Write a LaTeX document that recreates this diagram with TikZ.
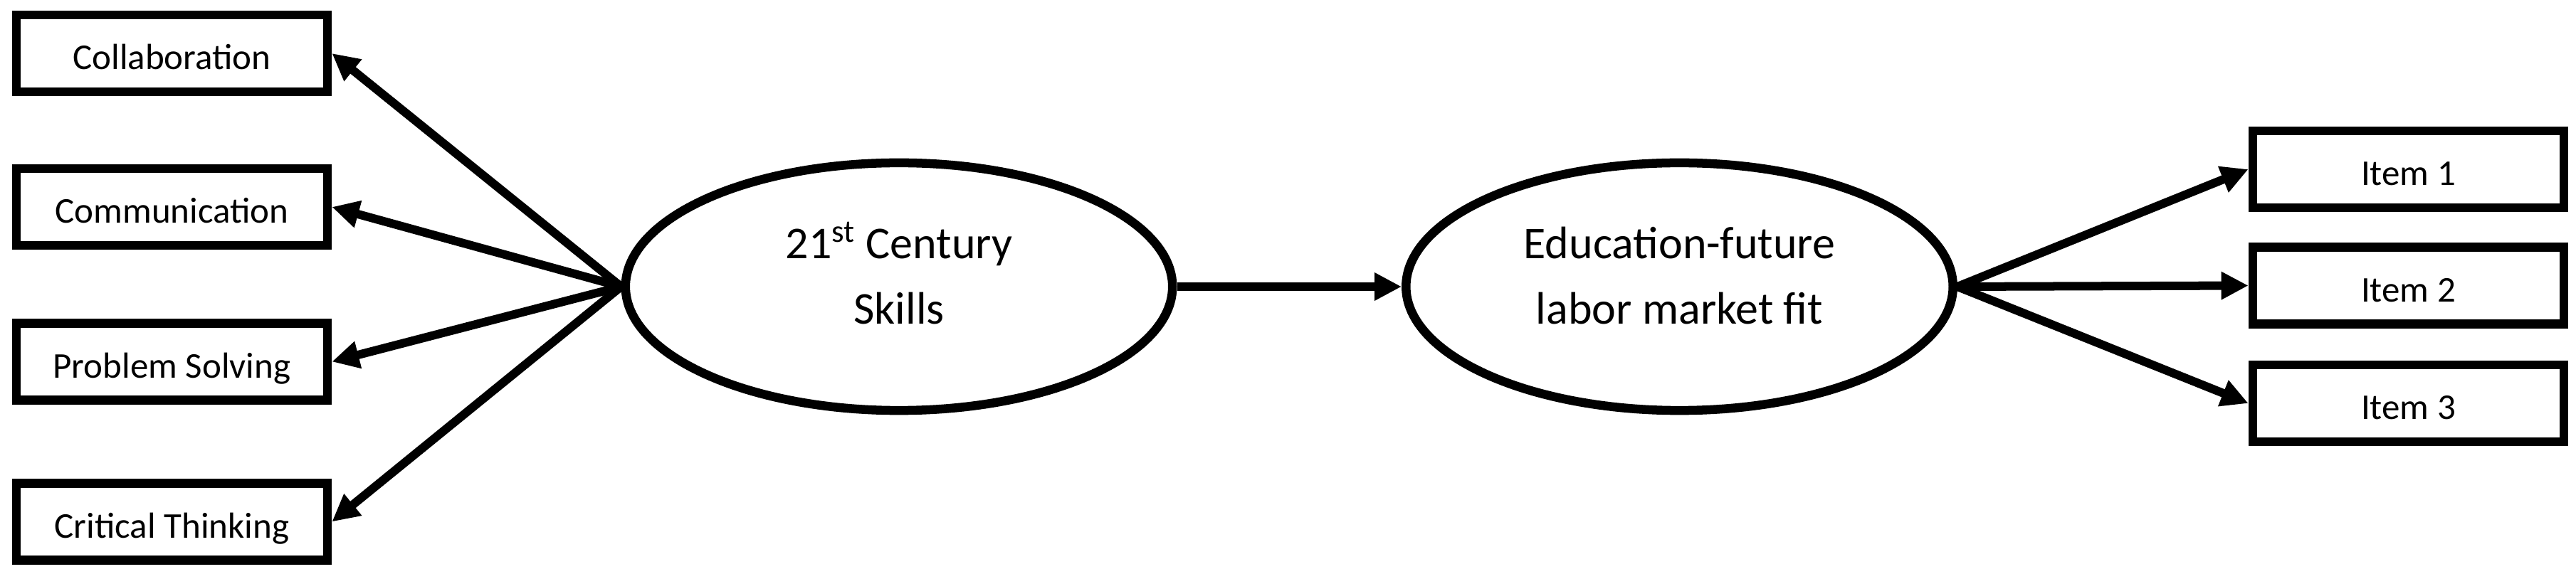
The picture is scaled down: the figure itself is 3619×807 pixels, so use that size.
\documentclass[tikz,border=0pt]{standalone}
\usepackage{fontspec}
\setmainfont{Carlito}
\usetikzlibrary{arrows.meta,shapes.geometric}
\begin{document}
\begin{tikzpicture}[x=0.01cm,y=-0.01cm,
  boxnode/.style={draw=black,line width=0.125cm,rectangle,minimum width=4.37cm,minimum height=1.08cm,
    inner sep=0pt,font=\fontsize{14.5}{17.4}\selectfont,text height=0.45cm,text depth=0cm},
  ellnode/.style={draw=black,line width=0.125cm,ellipse,minimum width=7.68cm,minimum height=3.48cm,
    inner sep=0pt,align=center,font=\fontsize{18.2}{26.3}\selectfont,text height=1.05cm,text depth=0cm},
  arr/.style={line width=0.12cm,-{Triangle[length=0.38cm,width=0.37cm]}}]
\useasboundingbox (0,0) rectangle (3619,807);
\fill[white] (0,0) rectangle (3619,807);
% left indicator boxes
\node[boxnode] (collab) at (241.5,75) {Collaboration};
\node[boxnode] (comm) at (241.5,291) {Communication};
\node[boxnode] (prob) at (241.5,508.5) {Problem Solving};
\node[boxnode] (crit) at (241.5,733.5) {Critical Thinking};
% latent ellipses
\node[ellnode] (skills) at (1263,403) {21\textsuperscript{st} Century\\Skills};
\node[ellnode] (fit) at (2359.5,403) {Education-future\\labor market fit};
% right item boxes
\node[boxnode] (item1) at (3383.5,238) {Item 1};
\node[boxnode] (item2) at (3383.5,401.5) {Item 2};
\node[boxnode] (item3) at (3383.5,567) {Item 3};
% connectors
\draw[arr] (skills.west) -- (collab.east);
\draw[arr] (skills.west) -- (comm.east);
\draw[arr] (skills.west) -- (prob.east);
\draw[arr] (skills.west) -- (crit.east);
\draw[arr] (skills.east) -- (fit.west);
\draw[arr] (fit.east) -- (item1.west);
\draw[arr] (fit.east) -- (item2.west);
\draw[arr] (fit.east) -- (item3.west);
\end{tikzpicture}
\end{document}
